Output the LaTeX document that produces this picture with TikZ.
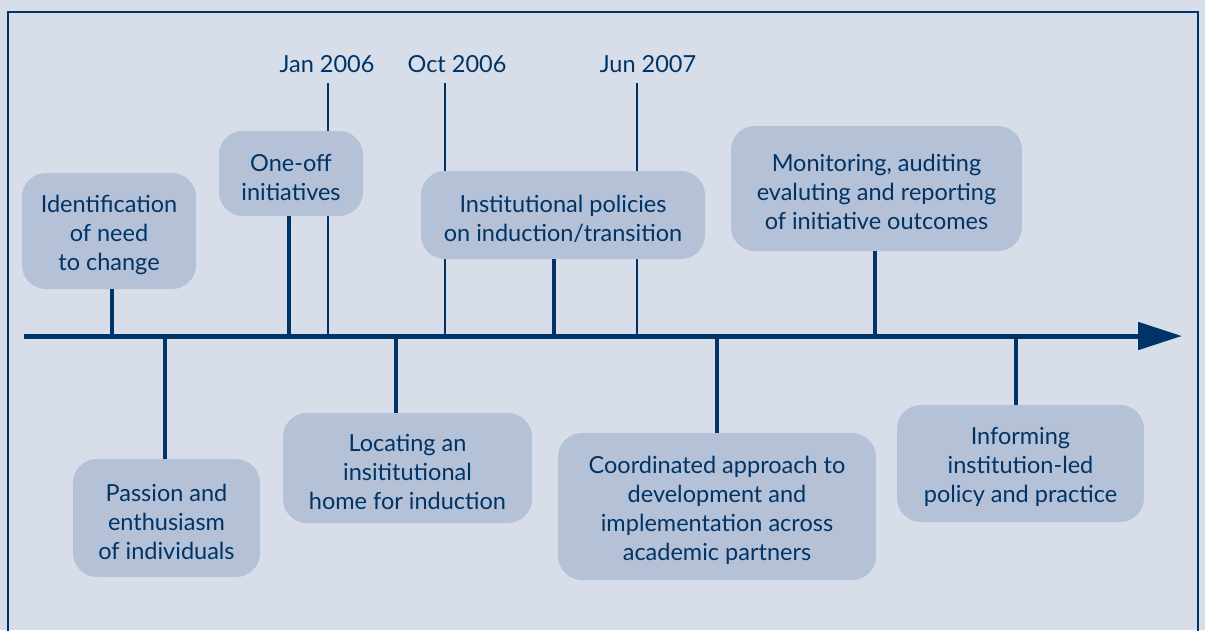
\documentclass[tikz,border=0pt]{standalone}
\usepackage{fontspec}
\setmainfont{Lato}
\usetikzlibrary{arrows.meta}
\definecolor{navy}{RGB}{0,52,102}
\definecolor{paper}{RGB}{215,222,233}
\definecolor{boxfill}{RGB}{180,193,215}
\newcommand\topstrut{\rule{0pt}{25pt}}
\tikzset{
  stage/.style={fill=boxfill, rounded corners=24pt, align=center, text=navy,
    font=\fontsize{23.5}{29}\selectfont, inner sep=0pt},
  tick/.style={navy, line width=4.5pt},
  datetick/.style={navy, line width=2.5pt},
  datelabel/.style={text=navy, font=\fontsize{23.5}{25}\selectfont, inner sep=0pt, anchor=base},
}
\begin{document}
\begin{tikzpicture}[x=1pt,y=-1pt]
\useasboundingbox (0,0) rectangle (1205,630);
\fill[paper] (0,0) rectangle (1205,630);
\draw[navy, line width=2.5pt] (8,632) -- (8,12) -- (1198,12) -- (1198,632);

% the dates along the top
\node[datelabel] (jan) at (327,72) {Jan 2006};
\node[datelabel] (oct) at (457,72) {Oct 2006};
\node[datelabel] (jun) at (648,72) {Jun 2007};
\coordinate (d1) at (328,336);
\coordinate (d2) at (445,336);
\coordinate (d3) at (637,336);
\foreach \d/\l in {d1/jan, d2/oct, d3/jun} {
  \draw[datetick] (\d) -- ([yshift=-11pt]\d |- \l.south);
}

% stages above the line
\node[stage, minimum width=174, minimum height=116] (ident) at (109,231) {\topstrut Identification\\of need\\to change};
\node[stage, minimum width=144, minimum height=85] (oneoff) at (291,173.5) {\topstrut One-off\\initiatives};
\node[stage, minimum width=284, minimum height=88] (policies) at (563,215) {\topstrut Institutional policies\\on induction/transition};
\node[stage, minimum width=291, minimum height=125] (monitor) at (876.5,188.5) {\topstrut Monitoring, auditing\\evaluting and reporting\\of initiative outcomes};

% stages below the line
\node[stage, minimum width=187, minimum height=118] (passion) at (166.5,518) {\topstrut Passion and\\enthusiasm\\of individuals};
\node[stage, minimum width=249, minimum height=110] (locating) at (407.5,468) {\topstrut Locating an\\insititutional\\home for induction};
\node[stage, minimum width=318, minimum height=147] (coord) at (717,506.5) {\topstrut Coordinated approach to\\development and\\implementation across\\academic partners};
\node[stage, minimum width=247, minimum height=117] (inform) at (1020.5,463.5) {\topstrut Informing\\institution-led\\policy and practice};

% time line
\coordinate (start) at (24,336);
\coordinate (end) at (1182,336);
\draw[navy, line width=5pt, -{Triangle[length=44pt,width=27pt]}] (start) -- (end);

\foreach \x/\n in {112/ident, 289/oneoff, 554/policies, 875/monitor} {
  \coordinate (t-\n) at (\x,336);
  \draw[tick] (t-\n) -- (t-\n |- \n.south);
}
\foreach \x/\n in {165/passion, 396/locating, 717/coord, 1016/inform} {
  \coordinate (t-\n) at (\x,336);
  \draw[tick] (t-\n) -- (t-\n |- \n.north);
}
\end{tikzpicture}
\end{document}
